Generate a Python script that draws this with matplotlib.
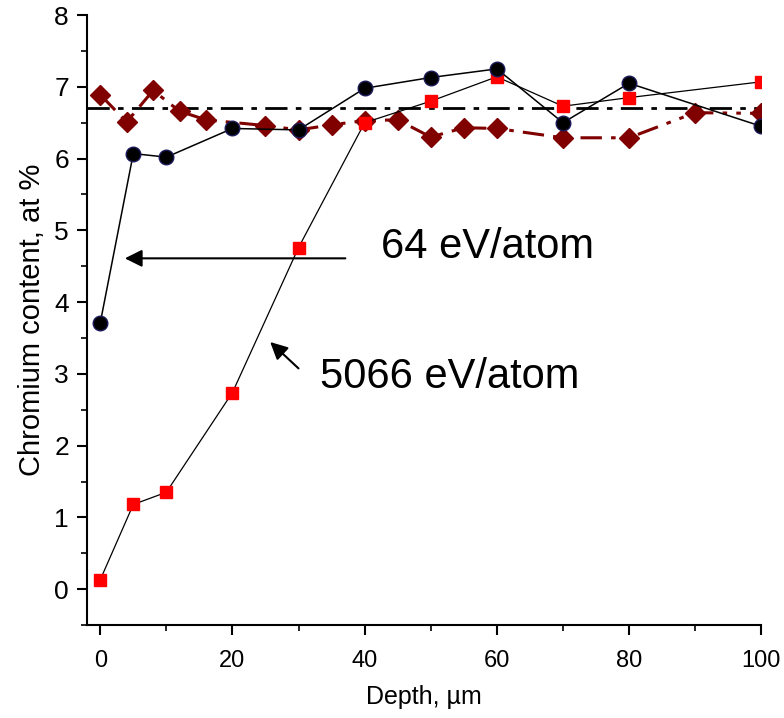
import matplotlib.pyplot as plt
from matplotlib.ticker import MultipleLocator

plt.rcParams['font.family'] = ['Liberation Sans', 'DejaVu Sans']

# 64 eV/atom (black circles)
depth_64 = [0, 5, 10, 20, 30, 40, 50, 60, 70, 80, 100]
cr_64 = [3.71, 6.07, 6.02, 6.42, 6.40, 6.98, 7.13, 7.25, 6.50, 7.05, 6.45]

# 5066 eV/atom (red squares)
depth_5066 = [0, 5, 10, 20, 30, 40, 50, 60, 70, 80, 100]
cr_5066 = [0.13, 1.18, 1.35, 2.74, 4.76, 6.50, 6.80, 7.14, 6.73, 6.85, 7.07]

# reference profile (dark red diamonds)
depth_ref = [0, 4, 8, 12, 16, 25, 30, 35, 40, 45, 50, 55, 60, 70, 80, 90, 100]
cr_ref = [6.89, 6.51, 6.95, 6.66, 6.54, 6.46, 6.40, 6.47, 6.53, 6.54, 6.30, 6.43, 6.42, 6.29, 6.29, 6.64, 6.63]

nominal = 6.7

fig = plt.figure(figsize=(7.84, 7.18), dpi=100)
ax = fig.add_axes([0.111, 0.1295, 0.860, 0.8495])

ax.axhline(nominal, color='black', lw=2, linestyle=(0, (8, 3, 2, 3)))

ax.plot(depth_ref, cr_ref, color='#800000', lw=2.2,
        linestyle=(0, (7, 3, 1.5, 3, 1.5, 3)),
        marker='D', ms=10.5, mfc='#800000', mec='#800000', zorder=3)
ax.plot(depth_5066, cr_5066, color='black', lw=0.9,
        marker='s', ms=8, mfc='red', mec='red', zorder=4)
ax.plot(depth_64, cr_64, color='black', lw=1.1,
        marker='o', ms=10.5, mfc='black', mec='#1a1a5a', zorder=5)

ax.annotate('', xy=(3.3, 4.61), xytext=(37.5, 4.61),
            arrowprops=dict(arrowstyle='-|>', color='black', lw=1.5,
                            mutation_scale=26))
ax.text(42.5, 4.77, '64 eV/atom', fontsize=30, va='center', ha='left')

ax.annotate('', xy=(25.4, 3.47), xytext=(30.3, 3.05),
            arrowprops=dict(arrowstyle='-|>', color='black', lw=1.5,
                            mutation_scale=26))
ax.text(33.3, 2.95, '5066 eV/atom', fontsize=30, va='center', ha='left')

ax.set_xlim(-2, 100)
ax.set_ylim(-0.5, 8)
ax.xaxis.set_major_locator(MultipleLocator(20))
ax.xaxis.set_minor_locator(MultipleLocator(10))
ax.yaxis.set_major_locator(MultipleLocator(1))
ax.yaxis.set_minor_locator(MultipleLocator(0.5))

ax.spines['top'].set_visible(False)
ax.spines['right'].set_visible(False)
ax.spines['left'].set_linewidth(1.5)
ax.spines['bottom'].set_linewidth(1.5)
ax.tick_params(which='major', direction='out', length=7, width=1.5)
ax.tick_params(which='minor', direction='out', length=4, width=1.2)
ax.tick_params(axis='x', labelsize=17, pad=11)
ax.tick_params(axis='y', labelsize=19, pad=6)

ax.set_xlabel('Depth, \u00b5m', fontsize=18, labelpad=9)
ax.set_ylabel('Chromium content, at %', fontsize=21, labelpad=6)

plt.savefig('out.png', dpi=100)
